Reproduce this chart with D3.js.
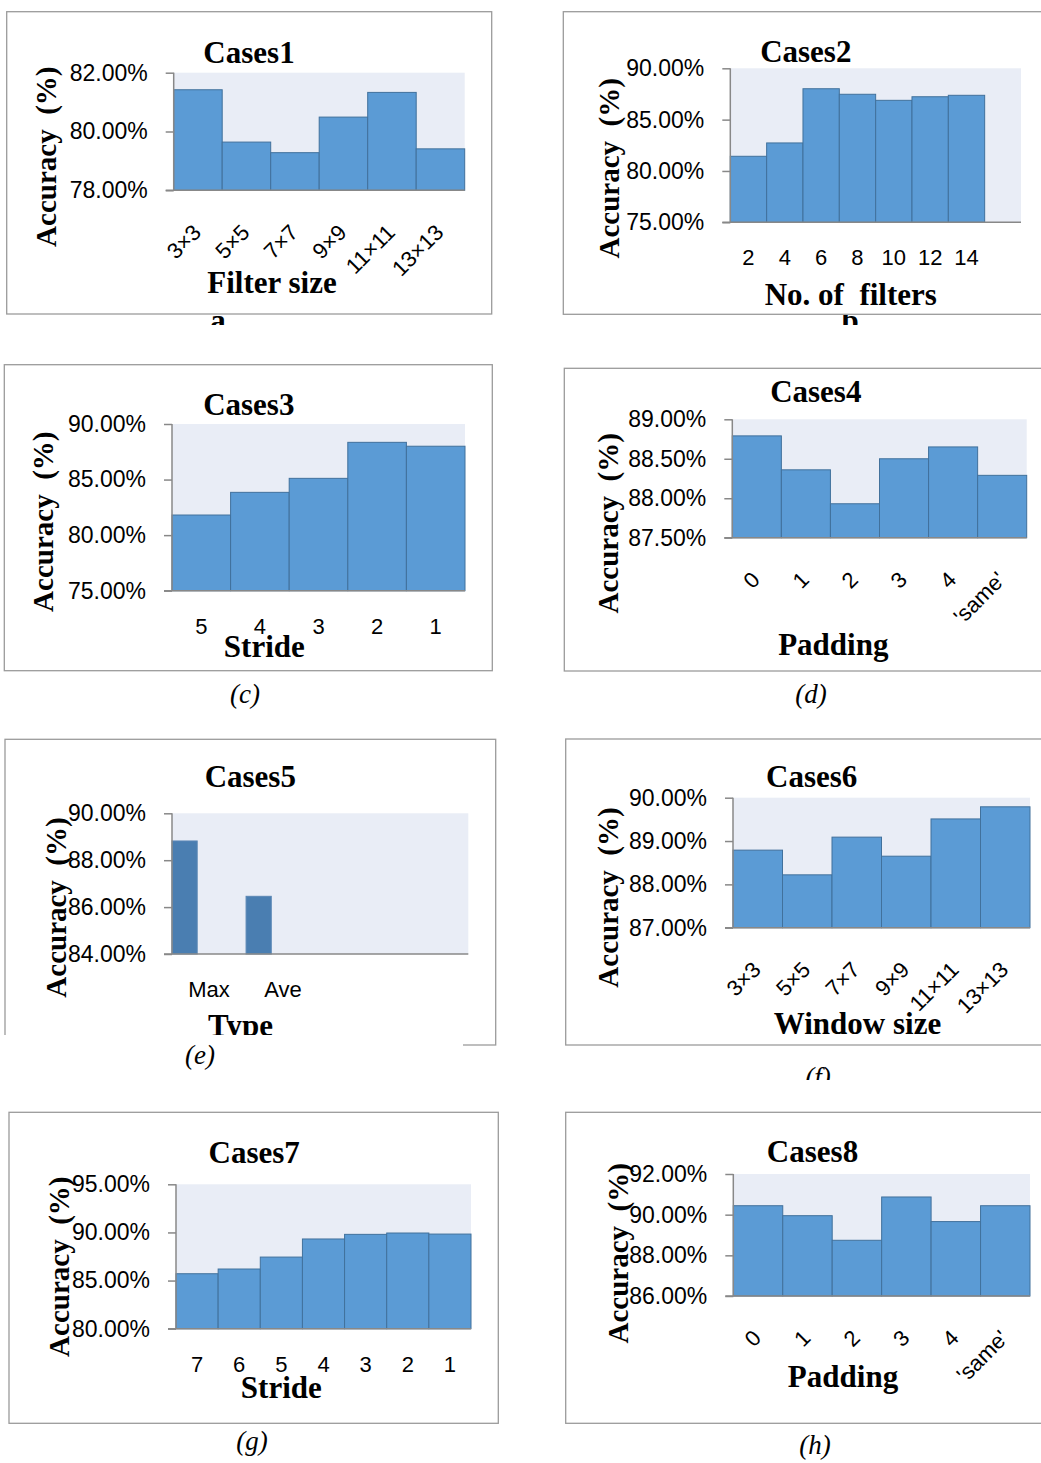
<!DOCTYPE html>
<html>
<head>
<meta charset="utf-8">
<script src="https://cdn.jsdelivr.net/npm/d3@7"></script>
<style>
  html, body { margin: 0; padding: 0; background: #fff; }
  svg { display: block; }
  .tick-y, .tick-x { font-family: "Liberation Sans", Arial, sans-serif; fill: #000; }
  .serif-b { font-family: "Liberation Serif", "Times New Roman", serif; font-weight: bold; fill: #000; }
  .cap { font-family: "Liberation Serif", "Times New Roman", serif; font-style: italic; fill: #000; }
</style>
</head>
<body>
<svg id="chart" width="1041" height="1463"></svg>
<script>
// ---------------- DATA ----------------
const cases1Categories = ["3×3", "5×5", "7×7", "9×9", "11×11", "13×13"];
const cases1Values = [81.42, 79.64, 79.28, 80.49, 81.33, 79.41];
const cases1Ticks = [78, 80, 82];

const cases2Categories = ["2", "4", "6", "8", "10", "12", "14"];
const cases2Values = [81.43, 82.73, 88.01, 87.47, 86.88, 87.23, 87.37];
const cases2Ticks = [75, 80, 85, 90];

const cases3Categories = ["5", "4", "3", "2", "1"];
const cases3Values = [81.81, 83.85, 85.11, 88.35, 88.0];
const cases3Ticks = [75, 80, 85, 90];

const cases4Categories = ["0", "1", "2", "3", "4", "'same'"];
const cases4Values = [88.79, 88.36, 87.93, 88.5, 88.65, 88.29];
const cases4Ticks = [87.5, 88, 88.5, 89];

const cases5Categories = ["Max", "Ave"];
const cases5Values = [88.82, 86.46];
const cases5Ticks = [84, 86, 88, 90];

const cases6Categories = ["3×3", "5×5", "7×7", "9×9", "11×11", "13×13"];
const cases6Values = [88.79, 88.22, 89.09, 88.65, 89.51, 89.79];
const cases6Ticks = [87, 88, 89, 90];

const cases7Categories = ["7", "6", "5", "4", "3", "2", "1"];
const cases7Values = [85.71, 86.2, 87.44, 89.32, 89.8, 89.94, 89.83];
const cases7Ticks = [80, 85, 90, 95];

const cases8Categories = ["0", "1", "2", "3", "4", "'same'"];
const cases8Values = [90.44, 89.95, 88.74, 90.87, 89.66, 90.44];
const cases8Ticks = [86, 88, 90, 92];

const titles = ["Cases1", "Cases2", "Cases3", "Cases4", "Cases5", "Cases6", "Cases7", "Cases8"];
const xTitles = ["Filter size", "No. of  filters", "Stride", "Padding", "Type", "Window size", "Stride", "Padding"];
const yTitle = "Accuracy  (%)";
const captions = ["(c)", "(d)", "(e)", "(f)", "(g)", "(h)"];
const subLetters = ["a", "b"];

// ---------------- LAYOUT ----------------
const panels = [
  { cats: cases1Categories, vals: cases1Values, ticks: cases1Ticks, title: titles[0], xt: xTitles[0],
    frame: [6.7, 11.7, 491.7, 314], plot: [173.7, 464.7, 72.7, 190.3], slots: 6, rotate: true,
    tpos: [249, 62.5], xtpos: [272, 292.5], ytpos: [45.8, 156.7] },
  { cats: cases2Categories, vals: cases2Values, ticks: cases2Ticks, title: titles[1], xt: xTitles[1],
    frame: [563.3, 11.7, 1046, 314.3], plot: [730.3, 1021, 68.3, 222.3], slots: 8, rotate: false,
    tpos: [805.8, 62.3], xtpos: [850.8, 304.5], ytpos: [609.2, 168.3] },
  { cats: cases3Categories, vals: cases3Values, ticks: cases3Ticks, title: titles[2], xt: xTitles[2],
    frame: [4.3, 364.7, 492.3, 670.7], plot: [172, 465, 424, 590.7], slots: 5, rotate: false,
    tpos: [248.8, 415], xtpos: [264.3, 657], ytpos: [43.3, 521.7] },
  { cats: cases4Categories, vals: cases4Values, ticks: cases4Ticks, title: titles[3], xt: xTitles[3],
    frame: [564.3, 368.3, 1046, 671], plot: [732.3, 1026.7, 419.3, 537.7], slots: 6, rotate: true,
    tpos: [815.8, 401.7], xtpos: [833.3, 655], ytpos: [607.5, 523.3] },
  { cats: cases5Categories, vals: cases5Values, ticks: cases5Ticks, title: titles[4], xt: xTitles[4],
    frame: [5, 739.3, 495.7, 1045], plot: [172, 468.3, 813.3, 954], slots: 4, rotate: false, barFrac: 0.34, dark: true,
    tpos: [250.3, 786.7], xtpos: [240.5, 1036], ytpos: [55.8, 907.5], mask: [0, 1035, 463, 14] },
  { cats: cases6Categories, vals: cases6Values, ticks: cases6Ticks, title: titles[5], xt: xTitles[5],
    frame: [565.7, 739, 1046, 1045], plot: [733, 1030, 797.7, 927.7], slots: 6, rotate: true,
    tpos: [811.7, 787.3], xtpos: [857.5, 1034.3], ytpos: [607.5, 897.5] },
  { cats: cases7Categories, vals: cases7Values, ticks: cases7Ticks, title: titles[6], xt: xTitles[6],
    frame: [9, 1112.3, 498.3, 1423.3], plot: [176, 471, 1184.3, 1328.7], slots: 7, rotate: false,
    tpos: [254.2, 1162.7], xtpos: [281.3, 1398.3], ytpos: [59.2, 1266.7] },
  { cats: cases8Categories, vals: cases8Values, ticks: cases8Ticks, title: titles[7], xt: xTitles[7],
    frame: [565.7, 1112.3, 1046, 1423.3], plot: [733.3, 1030, 1174, 1296], slots: 6, rotate: true,
    tpos: [812.5, 1162.3], xtpos: [843, 1387.3], ytpos: [617.5, 1253.3] }
];

const capPos = [[245, 703], [811, 703], [200, 1064], [818, 1086], [252, 1450], [815, 1454]];
const capClip = [null, null, null, [0, 1046, 1041, 34], null, null];
const letterPos = [[218, 331], [850, 331]];

const svg = d3.select("#chart");
const defs = svg.append("defs");

const fmt = d3.format(".2f");
const axisColor = "#888888";
const frameColor = "#9b9b9b";

panels.forEach((p, i) => {
  const g = svg.append("g");
  const [fx0, fy0, fx1, fy1] = p.frame;
  const [px0, px1, py0, py1] = p.plot;

  // frame
  g.append("rect").attr("x", fx0).attr("y", fy0).attr("width", fx1 - fx0).attr("height", fy1 - fy0)
    .attr("fill", "#fff").attr("stroke", frameColor).attr("stroke-width", 1.3);

  const domainCats = p.cats.concat(d3.range(p.slots - p.cats.length).map(k => "__empty" + k));
  const x = d3.scaleBand().domain(domainCats).range([px0, px1]).paddingInner(0).paddingOuter(0);
  const y = d3.scaleLinear().domain([p.ticks[0], p.ticks[p.ticks.length - 1]]).range([py1, py0]);

  // plot background
  g.append("rect").attr("x", px0).attr("y", py0).attr("width", px1 - px0).attr("height", py1 - py0)
    .attr("fill", "#e9edf6");

  // bars
  const bw = p.barFrac ? x.bandwidth() * p.barFrac : x.bandwidth();
  g.selectAll("rect.bar").data(p.vals).enter().append("rect")
    .attr("class", "bar")
    .attr("x", (d, k) => x(p.cats[k]))
    .attr("y", d => y(d))
    .attr("width", bw)
    .attr("height", d => y(p.ticks[0]) - y(d))
    .attr("fill", p.dark ? "#4a7eb1" : "#5b9bd5")
    .attr("stroke", p.dark ? "#5a86b4" : "#41719c")
    .attr("stroke-width", 1);

  // y axis
  const yAxis = d3.axisLeft(y).tickValues(p.ticks).tickSize(8).tickPadding(18)
    .tickFormat(d => fmt(d) + "%");
  const ya = g.append("g").attr("transform", `translate(${px0},0)`).call(yAxis);
  ya.select(".domain").attr("stroke", axisColor).attr("stroke-width", 1.5).attr("d", `M0,${py0}V${py1}`);
  ya.selectAll(".tick line").attr("stroke", axisColor).attr("stroke-width", 1.5);
  ya.selectAll(".tick text").attr("class", "tick-y").style("font-size", "23px")
    .style("font-family", '"Liberation Sans", Arial, sans-serif').attr("fill", "#000");

  // x axis line
  g.append("line").attr("x1", px0 - 8).attr("x2", px1).attr("y1", py1).attr("y2", py1)
    .attr("stroke", axisColor).attr("stroke-width", 1.5);

  // x tick labels
  if (p.rotate) {
    g.selectAll("text.tick-x").data(p.cats).enter().append("text")
      .attr("class", "tick-x")
      .style("font-size", "22px")
      .attr("text-anchor", "end")
      .attr("dy", "0.35em")
      .attr("transform", d => `translate(${x(d) + x.bandwidth() / 2 - 1},${py1 + 38}) rotate(-45)`)
      .text(d => d);
  } else {
    g.selectAll("text.tick-x").data(p.cats).enter().append("text")
      .attr("class", "tick-x")
      .style("font-size", "22px")
      .attr("text-anchor", "middle")
      .attr("x", d => x(d) + x.bandwidth() / 2)
      .attr("y", py1 + 43)
      .text(d => d);
  }

  // title
  g.append("text").attr("class", "serif-b").style("font-size", "31px")
    .attr("text-anchor", "middle").attr("x", p.tpos[0]).attr("y", p.tpos[1]).text(p.title);

  // x title
  g.append("text").attr("class", "serif-b").style("font-size", "31px").style("white-space", "pre")
    .attr("text-anchor", "middle").attr("x", p.xtpos[0]).attr("y", p.xtpos[1]).text(p.xt);

  // y title
  g.append("text").attr("class", "serif-b").style("font-size", "29px").style("white-space", "pre")
    .attr("text-anchor", "middle").attr("dy", "0.35em")
    .attr("transform", `translate(${p.ytpos[0]},${p.ytpos[1]}) rotate(-90)`)
    .text(yTitle);

  // mask (panel e)
  if (p.mask) {
    g.append("rect").attr("x", p.mask[0]).attr("y", p.mask[1]).attr("width", p.mask[2]).attr("height", p.mask[3])
      .attr("fill", "#fff");
  }
});

// sub letters under first row (partially hidden)
subLetters.forEach((s, k) => {
  const id = "clipL" + k;
  defs.append("clipPath").attr("id", id).append("rect")
    .attr("x", letterPos[k][0] - 20).attr("y", 315).attr("width", 40).attr("height", 10);
  svg.append("text").attr("class", "serif-b").style("font-size", "31px")
    .attr("clip-path", `url(#${id})`)
    .attr("text-anchor", "middle").attr("x", letterPos[k][0]).attr("y", letterPos[k][1]).text(s);
});

// captions
captions.forEach((c, k) => {
  const t = svg.append("text").attr("class", "cap").style("font-size", "27px")
    .attr("text-anchor", "middle").attr("x", capPos[k][0]).attr("y", capPos[k][1]).text(c);
  if (capClip[k]) {
    const id = "clipC" + k;
    defs.append("clipPath").attr("id", id).append("rect")
      .attr("x", capClip[k][0]).attr("y", capClip[k][1]).attr("width", capClip[k][2]).attr("height", capClip[k][3]);
    t.attr("clip-path", `url(#${id})`);
  }
});
</script>
</body>
</html>
